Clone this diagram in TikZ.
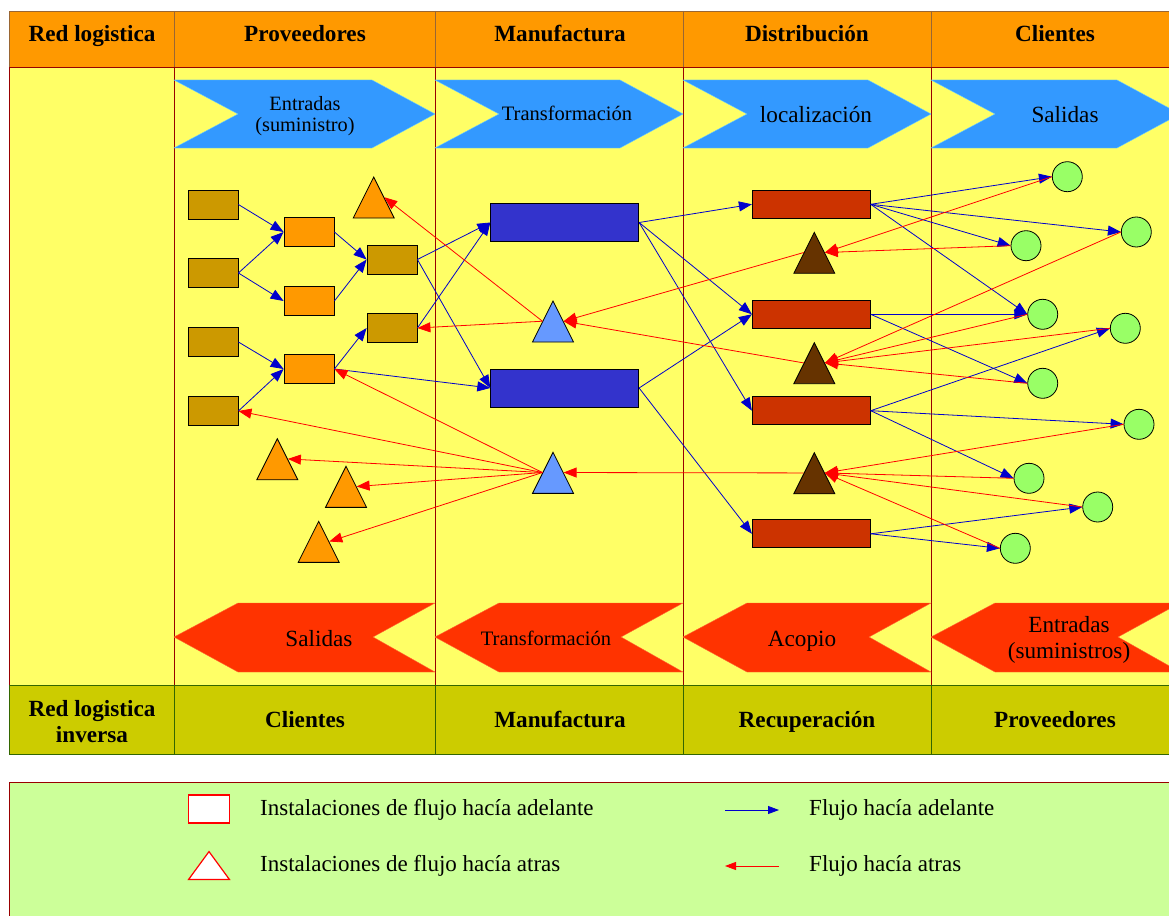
\documentclass[tikz,border=0pt]{standalone}
\usepackage{fontspec}
\setmainfont{Liberation Serif}
\usetikzlibrary{arrows.meta,shapes.geometric}

\definecolor{headorange}{HTML}{FF9900}
\definecolor{mainyellow}{HTML}{FFFF66}
\definecolor{footolive}{HTML}{CCCC00}
\definecolor{legendgreen}{HTML}{CCFF99}
\definecolor{linered}{HTML}{990000}
\definecolor{linebrown}{HTML}{996633}
\definecolor{linegreen}{HTML}{336600}
\definecolor{chevblue}{HTML}{3399FF}
\definecolor{chevcyan}{HTML}{66CCFF}
\definecolor{chevred}{HTML}{FF3300}
\definecolor{chevorange}{HTML}{FF6633}
\definecolor{boxgold}{HTML}{CC9900}
\definecolor{boxorange}{HTML}{FF9900}
\definecolor{boxblue}{HTML}{3333CC}
\definecolor{trilight}{HTML}{6699FF}
\definecolor{boxrust}{HTML}{CC3300}
\definecolor{tribrown}{HTML}{663300}
\definecolor{cligreen}{HTML}{99FF66}
\definecolor{fwdblue}{HTML}{0000CC}
\definecolor{bwdred}{HTML}{FF0000}

\begin{document}
\begin{tikzpicture}[x=1pt,y=-1pt,
	headtxt/.style={font=\fontsize{23.2}{26}\selectfont\bfseries, align=center, inner sep=0pt},
	chevtxt/.style={font=\fontsize{23.2}{26.5}\selectfont, align=center, inner sep=0pt},
	smalltxt/.style={font=\fontsize{20.5}{22}\selectfont},
	keytxt/.style={font=\fontsize{23}{26}\selectfont, anchor=west, inner sep=0pt},
	facility/.style={draw=black, line width=0.8pt, inner sep=0pt},
	rawbox/.style={facility, fill=boxgold, minimum width=50pt, minimum height=29pt},
	partbox/.style={facility, fill=boxorange, minimum width=50pt, minimum height=29pt},
	plant/.style={facility, fill=boxblue, minimum width=148pt, minimum height=38pt},
	depot/.style={facility, fill=boxrust, minimum width=118pt, minimum height=28pt},
	client/.style={facility, circle, fill=cligreen, minimum size=30pt},
	tri/.style={facility, isosceles triangle, isosceles triangle stretches, shape border rotate=90, minimum width=41pt, minimum height=41pt, anchor=apex},
	fwd/.style={draw=fwdblue, line width=0.8pt, arrows={-Triangle[length=13pt,width=10pt,fill=fwdblue]}},
	bwd/.style={draw=bwdred, line width=0.8pt, arrows={-Triangle[length=13pt,width=10pt,fill=bwdred]}},
]

	\useasboundingbox (0,0) rectangle (1169,915);
	\clip (0,0) rectangle (1169,915);

	% Table
	\fill[headorange] (9,11) rectangle (1179,67);
	\fill[mainyellow] (9,67) rectangle (1179,685);
	\fill[footolive] (9,685) rectangle (1179,754);
	\draw[linebrown] (9,67) -- (9,11) -- (1179,11);
	\draw[linered] (9,67) -- (1179,67) (9,67) -- (9,685);
	\draw[linegreen] (9,685) -- (1179,685) (9,685) -- (9,754) -- (1179,754);
	\foreach \x in {174,435,683,931} {
		\draw[linebrown] (\x,11) -- (\x,67);
		\draw[linered] (\x,67) -- (\x,685);
		\draw[linegreen] (\x,685) -- (\x,754);
	}

	% Chevrons
	\foreach \l/\r in {174/435,435/683,683/931,931/1180} {
		\filldraw[fill=chevblue, draw=chevcyan] (\l,80) -- (\r-63,80) -- (\r,114) -- (\r-63,148) -- (\l,148) -- (\l+64,114) -- cycle;
		\filldraw[fill=chevred, draw=chevorange] (\l,637) -- (\l+64,603) -- (\r,603) -- (\r-62,637) -- (\r,672) -- (\l+64,672) -- cycle;
	}

	% Header and footer
	\node[headtxt, anchor=base] (hRed) at (92,42) {Red logistica};
	\node[headtxt, anchor=base] (hProv) at (305,42) {Proveedores};
	\node[headtxt, anchor=base] (hMan) at (560,42) {Manufactura};
	\node[headtxt, anchor=base] (hDist) at (807,42) {Distribución};
	\node[headtxt, anchor=base] (hCli) at (1055,42) {Clientes};
	\node[headtxt] (fRed) at (92,722) {Red logistica\\inversa};
	\node[headtxt, anchor=base] (fCli) at (305,727) {Clientes};
	\node[headtxt, anchor=base] (fMan) at (560,727) {Manufactura};
	\node[headtxt, anchor=base] (fRec) at (807,727) {Recuperación};
	\node[headtxt, anchor=base] (fProv) at (1055,727) {Proveedores};

	% Chevron labels
	\node[chevtxt, font=\fontsize{20.3}{21.7}\selectfont] (inA) at (305,116) {Entradas\\(suministro)};
	\node[chevtxt, smalltxt, anchor=base] (inB) at (567,121) {Transformación};
	\node[chevtxt, anchor=base] (inC) at (816,123) {localización};
	\node[chevtxt, anchor=base] (inD) at (1065,123) {Salidas};
	\node[chevtxt, anchor=base] (outA) at (319,646) {Salidas};
	\node[chevtxt, smalltxt, anchor=base] (outB) at (546,645) {Transformación};
	\node[chevtxt, anchor=base] (outC) at (802,646) {Acopio};
	\node[chevtxt] (outD) at (1069,640) {Entradas\\(suministros)};

	% Proveedores
	\node[rawbox] (s1) at (213,204.5) {};
	\node[rawbox] (s2) at (213,273) {};
	\node[rawbox] (s3) at (213,342) {};
	\node[rawbox] (s4) at (213,411) {};
	\node[partbox] (o1) at (309,232) {};
	\node[partbox] (o2) at (309,301) {};
	\node[partbox] (o3) at (309,369) {};
	\node[rawbox] (g1) at (392,259.5) {};
	\node[rawbox] (g2) at (392,328) {};
	\node[tri, fill=boxorange] (t1) at (373.7,176) {};
	\node[tri, fill=boxorange] (t2) at (277.3,437.7) {};
	\node[tri, fill=boxorange] (t3) at (346,465.3) {};
	\node[tri, fill=boxorange] (t4) at (318.7,520.3) {};

	% Manufactura
	\node[plant] (m1) at (564.7,222.5) {};
	\node[plant] (m2) at (564.7,388) {};
	\node[tri, fill=trilight] (t5) at (553,300) {};
	\node[tri, fill=trilight] (t6) at (553,451.3) {};

	% Distribucion
	\node[depot] (d1) at (811.3,204.3) {};
	\node[depot] (d2) at (811.3,314.3) {};
	\node[depot] (d3) at (811.3,410.7) {};
	\node[depot] (d4) at (811.3,533.8) {};
	\node[tri, fill=tribrown] (t7) at (814.3,231.3) {};
	\node[tri, fill=tribrown] (t8) at (814.3,341.7) {};
	\node[tri, fill=tribrown] (t9) at (814.3,451.7) {};

	% Clientes
	\node[client] (c1) at (1067.3,176.7) {};
	\node[client] (c2) at (1136.3,232) {};
	\node[client] (c3) at (1026,245.7) {};
	\node[client] (c4) at (1042.7,314.3) {};
	\node[client] (c5) at (1125.3,328.3) {};
	\node[client] (c6) at (1042.7,383.3) {};
	\node[client] (c7) at (1139,424.3) {};
	\node[client] (c8) at (1029,478.3) {};
	\node[client] (c9) at (1097.7,507) {};
	\node[client] (c10) at (1015.3,548.3) {};

	% Forward flow
	\draw[fwd] (s1.east) -- (o1.west);
	\draw[fwd] (s2.east) -- (o1.west);
	\draw[fwd] (s2.east) -- (o2.west);
	\draw[fwd] (o1.east) -- (g1.west);
	\draw[fwd] (o2.east) -- (g1.west);
	\draw[fwd] (s3.east) -- (o3.west);
	\draw[fwd] (s4.east) -- (o3.west);
	\draw[fwd] (o3.east) -- (g2.west);
	\draw[fwd] (g1.east) -- (m1.west);
	\draw[fwd] (g2.east) -- (m1.west);
	\draw[fwd] (g1.east) -- (m2.west);
	\draw[fwd] (o3.east) -- (m2.west);
	\draw[fwd] (m1.east) -- (d1.west);
	\draw[fwd] (m1.east) -- (d2.west);
	\draw[fwd] (m1.east) -- (d3.west);
	\draw[fwd] (m2.east) -- (d2.west);
	\draw[fwd] (m2.east) -- (d4.west);
	\draw[fwd] (d1.east) -- (c1.west);
	\draw[fwd] (d1.east) -- (c2.west);
	\draw[fwd] (d1.east) -- (c3.west);
	\draw[fwd] (d1.east) -- (c4.west);
	\draw[fwd] (d2.east) -- (c4.west);
	\draw[fwd] (d2.east) -- (c6.west);
	\draw[fwd] (d3.east) -- (c5.west);
	\draw[fwd] (d3.east) -- (c7.west);
	\draw[fwd] (d3.east) -- (c8.west);
	\draw[fwd] (d4.east) -- (c9.west);
	\draw[fwd] (d4.east) -- (c10.west);

	% Backward flow
	\draw[bwd] (c1.west) -- (t7.right side);
	\draw[bwd] (c3.west) -- (t7.right side);
	\draw[bwd] (c2.west) -- (t8.right side);
	\draw[bwd] (c4.west) -- (t8.right side);
	\draw[bwd] (c5.west) -- (t8.right side);
	\draw[bwd] (c6.west) -- (t8.right side);
	\draw[bwd] (c7.west) -- (t9.right side);
	\draw[bwd] (c8.west) -- (t9.right side);
	\draw[bwd] (c9.west) -- (t9.right side);
	\draw[bwd] (c10.west) -- (t9.right side);
	\draw[bwd] (t7.left side) -- (t5.right side);
	\draw[bwd] (t8.left side) -- (t5.right side);
	\draw[bwd] (t9.left side) -- (t6.right side);
	\draw[bwd] (t5.left side) -- (t1.right side);
	\draw[bwd] (t5.left side) -- (g2.east);
	\draw[bwd] (t6.left side) -- (o3.east);
	\draw[bwd] (t6.left side) -- (s4.east);
	\draw[bwd] (t6.left side) -- (t2.right side);
	\draw[bwd] (t6.left side) -- (t3.right side);
	\draw[bwd] (t6.left side) -- (t4.right side);

	% Legend
	\draw[linered, fill=legendgreen] (9,782) rectangle (1179,930);
	\node[draw=bwdred, line width=1.2pt, fill=white, minimum width=41pt, minimum height=28pt, inner sep=0pt] (keybox) at (209,809) {};
	\node[tri, draw=bwdred, line width=1.2pt, fill=white, minimum height=28pt] (keytri) at (209,850) {};
	\node[keytxt] (keyfac) at (260,810) {Instalaciones de flujo hacía adelante};
	\node[keytxt] (keyrec) at (260,866) {Instalaciones de flujo hacía atras};
	\coordinate (kf1) at (725,810);
	\coordinate (kf2) at (779,810);
	\coordinate (kb1) at (779,866);
	\coordinate (kb2) at (725,866);
	\draw[fwd, arrows={-Triangle[length=11pt,width=8pt,fill=fwdblue]}] (kf1) -- (kf2);
	\draw[bwd, arrows={-Triangle[length=11pt,width=8pt,fill=bwdred]}] (kb1) -- (kb2);
	\node[keytxt] (keyfwd) at (809,810) {Flujo hacía adelante};
	\node[keytxt] (keybwd) at (809,866) {Flujo hacía atras};

\end{tikzpicture}
\end{document}
